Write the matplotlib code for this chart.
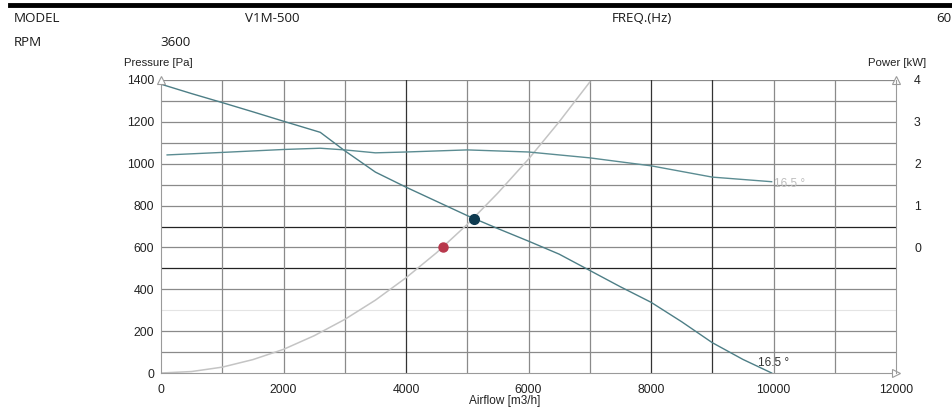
import numpy as np
import matplotlib.pyplot as plt
from matplotlib.lines import Line2D

plt.rcParams['font.family'] = ['Liberation Sans', 'DejaVu Sans']

# fan pressure curve [m3/h, Pa]
flow_p = [0, 500, 1000, 1500, 2000, 2600, 3000, 3500, 4000, 4500, 5000, 5500,
          6000, 6500, 7000, 7500, 8000, 8500, 9000, 9500, 9970]
pressure = [1380, 1335, 1292, 1248, 1203, 1150, 1062, 960, 888, 820, 752, 690,
            630, 568, 490, 412, 338, 245, 145, 65, 0]

# shaft power curve [m3/h, kW]
flow_w = [100, 1000, 2000, 2600, 3000, 3500, 4000, 5000, 6000, 7000, 8000, 9000, 9970]
power = [2.21, 2.27, 2.34, 2.37, 2.33, 2.26, 2.28, 2.33, 2.28, 2.14, 1.95, 1.68, 1.57]

# system resistance curve
flow_s = [0, 500, 1000, 1500, 2000, 2500, 3000, 3500, 4000, 4500, 5000, 5500,
          6000, 6500, 7000]
sys_p = [0, 7, 28, 64, 113, 178, 256, 348, 455, 575, 710, 860, 1022, 1200, 1390]

op_point = (5110, 738)
req_point = (4600, 600)

fig = plt.figure(figsize=(9.52, 4.08), dpi=100)
ax = fig.add_axes([161 / 952, 1 - 373 / 408, 735 / 952, 293 / 408])

ax.set_xlim(0, 12000)
ax.set_ylim(0, 1400)

# grid
for yv in range(100, 1400, 100):
    c, lw = '#8a8a8a', 0.9
    if yv in (500, 700):
        c, lw = '#222222', 0.9
    if yv == 300:
        c, lw = '#e4e4e4', 0.8
    ax.axhline(yv, color=c, lw=lw, zorder=1)
ax.axhline(1400, color='#8a8a8a', lw=0.9, zorder=1)
for xv in range(1000, 12000, 1000):
    c = '#333333' if xv in (4000, 8000, 9000) else '#8a8a8a'
    ax.axvline(xv, color=c, lw=0.9, zorder=1)

ax.plot(flow_s, sys_p, color='#c4c4c4', lw=1.1, zorder=2)
ax.plot(flow_p, pressure, color='#4d7e86', lw=1.0, zorder=3)

ax2 = ax.twinx()
ax2.set_ylim(-3, 4)
ax2.plot(flow_w, power, color='#5b8c92', lw=1.0, zorder=3)
ax2.set_yticks([0, 1, 2, 3, 4])
ax2.tick_params(axis='y', length=0, pad=13, labelsize=8.8, colors='#222222')

ax.plot(*op_point, 'o', color='#0e3a50', ms=7, zorder=5)
ax.plot(*req_point, 'o', color='#b8384c', ms=6.5, zorder=5)

ax.text(9750, 35, '16.5 °', fontsize=8.5, color='#333333')
ax.text(10000, 905, '16.5 °', fontsize=8.5, color='#bdbdbd', va='center')

ax.set_xticks(range(0, 12001, 2000))
ax.set_yticks(range(0, 1401, 200))
ax.tick_params(length=0, labelsize=8.8, colors='#222222')
ax.tick_params(axis='x', pad=8)
ax.tick_params(axis='y', pad=5)

for a in (ax, ax2):
    for s in a.spines.values():
        s.set_visible(False)
ax.spines['left'].set_visible(True)
ax.spines['bottom'].set_visible(True)
ax.spines['left'].set_color('#9a9a9a')
ax.spines['bottom'].set_color('#9a9a9a')
ax2.spines['right'].set_visible(True)
ax2.spines['right'].set_color('#9a9a9a')

# arrow heads on axes
ax.plot(0, 1.0, marker='^', ms=6, mfc='white', mec='#9a9a9a', mew=0.8,
        transform=ax.transAxes, clip_on=False, zorder=6)
ax.plot(1, 1.0, marker='^', ms=6, mfc='white', mec='#9a9a9a', mew=0.8,
        transform=ax.transAxes, clip_on=False, zorder=6)
ax.plot(1.0, 0, marker='>', ms=6, mfc='white', mec='#9a9a9a', mew=0.8,
        transform=ax.transAxes, clip_on=False, zorder=6)

fig.text(158 / 952, 1 - 63 / 408, 'Pressure [Pa]', fontsize=8.2, ha='center', va='center', color='#222222')
fig.text(897 / 952, 1 - 63 / 408, 'Power [kW]', fontsize=8.2, ha='center', va='center', color='#222222')
fig.text(505 / 952, 1 - 401 / 408, 'Airflow [m3/h]', fontsize=8.5, ha='center', va='center', color='#222222')

# header
fig.add_artist(Line2D([10 / 952, 1], [1 - 5 / 408, 1 - 5 / 408], color='black', lw=3.5))
hdr = dict(fontsize=9.6, va='center', color='#1a1a1a', family=['Open Sans', 'DejaVu Sans'])
fig.text(14 / 952, 1 - 18 / 408, 'MODEL', **hdr)
fig.text(245 / 952, 1 - 18 / 408, 'V1M-500', **hdr)
fig.text(612 / 952, 1 - 18 / 408, 'FREQ.(Hz)', **hdr)
fig.text(936 / 952, 1 - 18 / 408, '60', **hdr)
fig.text(14 / 952, 1 - 42 / 408, 'RPM', **hdr)
fig.text(160 / 952, 1 - 42 / 408, '3600', **hdr)

fig.savefig('out.png', dpi=100)
